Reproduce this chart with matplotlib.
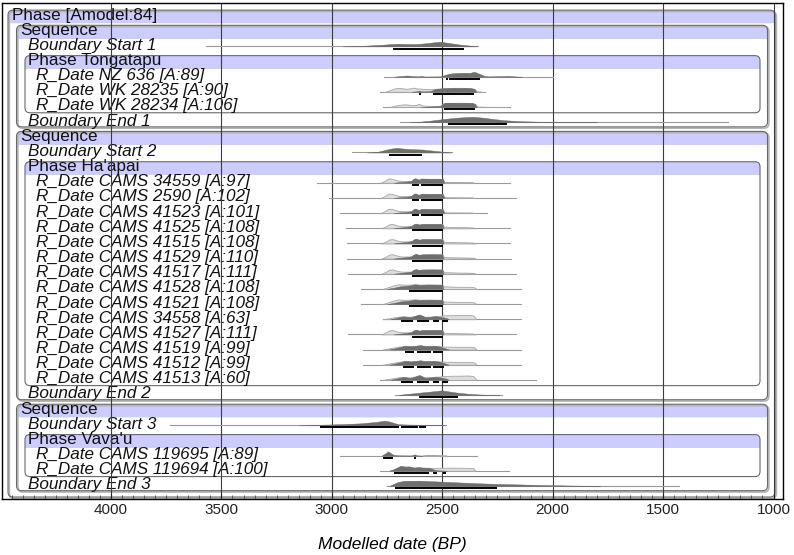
import numpy as np
import matplotlib.pyplot as plt
from matplotlib.patches import FancyBboxPatch, Rectangle
from matplotlib.ticker import MultipleLocator

plt.rcParams['font.family'] = ['Liberation Sans', 'DejaVu Sans']

# rows of the OxCal model, top to bottom
labels = ["Phase [Amodel:84]", "Sequence", "Boundary Start 1", "Phase Tongatapu",
          "R_Date NZ 636 [A:89]", "R_Date WK 28235 [A:90]", "R_Date WK 28234 [A:106]",
          "Boundary End 1", "Sequence", "Boundary Start 2", "Phase Ha'apai",
          "R_Date CAMS 34559 [A:97]", "R_Date CAMS 2590 [A:102]", "R_Date CAMS 41523 [A:101]",
          "R_Date CAMS 41525 [A:108]", "R_Date CAMS 41515 [A:108]", "R_Date CAMS 41529 [A:110]",
          "R_Date CAMS 41517 [A:111]", "R_Date CAMS 41528 [A:108]", "R_Date CAMS 41521 [A:108]",
          "R_Date CAMS 34558 [A:63]", "R_Date CAMS 41527 [A:111]", "R_Date CAMS 41519 [A:99]",
          "R_Date CAMS 41512 [A:99]", "R_Date CAMS 41513 [A:60]", "Boundary End 2",
          "Sequence", "Boundary Start 3", "Phase Vava'u",
          "R_Date CAMS 119695 [A:89]", "R_Date CAMS 119694 [A:100]", "Boundary End 3"]
depth = [0, 1, 2, 2, 3, 3, 3, 2, 1, 2, 2] + [3] * 14 + [2, 1, 2, 2, 3, 3, 2]
# (header row, last row, nesting depth)
groups = [(0, 31, 0), (1, 7, 1), (3, 6, 2), (8, 25, 1), (10, 24, 2), (26, 31, 1), (28, 30, 2)]

major_ticks = [4000, 3500, 3000, 2500, 2000, 1500, 1000]

# thin range line of each distribution (BP)
spans = {
    "Boundary Start 1": (3570, 2340),
    "R_Date NZ 636 [A:89]": (2765, 2000),
    "R_Date WK 28235 [A:90]": (2780, 2307),
    "R_Date WK 28234 [A:106]": (2767, 2193),
    "Boundary End 1": (2690, 1205),
    "Boundary Start 2": (2910, 2457),
    "R_Date CAMS 34559 [A:97]": (3069, 2193),
    "R_Date CAMS 2590 [A:102]": (3011, 2166),
    "R_Date CAMS 41523 [A:101]": (2963, 2299),
    "R_Date CAMS 41525 [A:108]": (2936, 2193),
    "R_Date CAMS 41515 [A:108]": (2933, 2193),
    "R_Date CAMS 41529 [A:110]": (2933, 2190),
    "R_Date CAMS 41517 [A:111]": (2926, 2166),
    "R_Date CAMS 41528 [A:108]": (2869, 2143),
    "R_Date CAMS 41521 [A:108]": (2869, 2143),
    "R_Date CAMS 34558 [A:63]": (2767, 2142),
    "R_Date CAMS 41527 [A:111]": (2925, 2168),
    "R_Date CAMS 41519 [A:99]": (2857, 2143),
    "R_Date CAMS 41512 [A:99]": (2857, 2143),
    "R_Date CAMS 41513 [A:60]": (2782, 2075),
    "Boundary End 2": (2714, 2231),
    "Boundary Start 3": (3733, 2483),
    "R_Date CAMS 119695 [A:89]": (2963, 2344),
    "R_Date CAMS 119694 [A:100]": (2782, 2196),
    "Boundary End 3": (2752, 1426),
}

# 95.4% ranges (BP)
hpd = {
    "Boundary Start 1": [(2725, 2401)],
    "R_Date NZ 636 [A:89]": [(2484, 2476), (2468, 2330)],
    "R_Date WK 28235 [A:90]": [(2604, 2596), (2540, 2356)],
    "R_Date WK 28234 [A:106]": [(2492, 2352)],
    "Boundary End 1": [(2475, 2208)],
    "Boundary Start 2": [(2740, 2593)],
    "R_Date CAMS 34559 [A:97]": [(2638, 2605), (2598, 2495)],
    "R_Date CAMS 2590 [A:102]": [(2638, 2605), (2598, 2495)],
    "R_Date CAMS 41523 [A:101]": [(2638, 2605), (2598, 2495)],
    "R_Date CAMS 41525 [A:108]": [(2638, 2495)],
    "R_Date CAMS 41515 [A:108]": [(2638, 2495)],
    "R_Date CAMS 41529 [A:110]": [(2638, 2495)],
    "R_Date CAMS 41517 [A:111]": [(2638, 2495)],
    "R_Date CAMS 41528 [A:108]": [(2649, 2495)],
    "R_Date CAMS 41521 [A:108]": [(2649, 2495)],
    "R_Date CAMS 34558 [A:63]": [(2686, 2631), (2616, 2560), (2540, 2515), (2503, 2472)],
    "R_Date CAMS 41527 [A:111]": [(2638, 2495)],
    "R_Date CAMS 41519 [A:99]": [(2668, 2628), (2616, 2551), (2543, 2495)],
    "R_Date CAMS 41512 [A:99]": [(2680, 2628), (2616, 2551), (2543, 2492)],
    "R_Date CAMS 41513 [A:60]": [(2686, 2631), (2616, 2560), (2540, 2515), (2503, 2472)],
    "Boundary End 2": [(2605, 2430)],
    "Boundary Start 3": [(3053, 2695), (2687, 2612), (2604, 2574)],
    "R_Date CAMS 119695 [A:89]": [(2770, 2724), (2626, 2618)],
    "R_Date CAMS 119694 [A:100]": [(2718, 2558), (2540, 2522), (2495, 2483)],
    "Boundary End 3": [(2713, 2253)],
}

# Ha'apai dates come in a few near identical shapes: (BP, relative density)
like_a = [(2780, 0), (2760, 2.0), (2745, 4.3), (2730, 4.2), (2700, 2.3), (2680, 1.8), (2640, 2.0),
          (2630, 3.8), (2622, 4.5), (2606, 3.0), (2594, 4.2), (2560, 4.0), (2510, 4.0), (2497, 3.8),
          (2490, 0.8), (2420, 0.7), (2365, 0.6), (2355, 0)]
post_a = [(2720, 0), (2700, 0.6), (2660, 1.2), (2640, 1.8), (2632, 3.6), (2622, 4.5), (2606, 3.0),
          (2594, 4.2), (2560, 4.0), (2510, 4.0), (2497, 3.8), (2492, 0)]
like_b = [(2775, 0), (2755, 2.0), (2740, 4.0), (2725, 4.3), (2700, 2.6), (2680, 2.0), (2640, 2.2),
          (2630, 3.8), (2620, 4.6), (2605, 3.7), (2590, 4.2), (2540, 4.3), (2500, 4.2), (2492, 1.6),
          (2450, 1.3), (2380, 1.0), (2360, 0.8), (2350, 0)]
post_b = [(2720, 0), (2690, 0.8), (2660, 1.5), (2640, 2.2), (2630, 3.8), (2620, 4.6), (2605, 3.7),
          (2590, 4.2), (2540, 4.3), (2500, 4.2), (2494, 0)]
like_c = [(2770, 0), (2745, 1.8), (2720, 3.5), (2700, 4.6), (2670, 4.2), (2640, 4.4), (2620, 4.8),
          (2600, 4.3), (2560, 4.5), (2500, 4.3), (2494, 2.5), (2440, 2.2), (2370, 2.0), (2355, 1.6),
          (2345, 0)]
post_c = [(2750, 0), (2720, 1.2), (2690, 2.6), (2660, 3.2), (2645, 3.6), (2625, 4.5), (2605, 4.0),
          (2570, 4.3), (2500, 4.2), (2494, 0)]
like_d = [(2770, 0), (2740, 1.0), (2700, 2.5), (2676, 3.0), (2650, 2.4), (2620, 3.5), (2604, 4.7),
          (2580, 2.4), (2555, 2.6), (2533, 3.2), (2510, 3.3), (2495, 3.9), (2450, 4.1), (2380, 4.3),
          (2360, 3.8), (2345, 0)]
post_d = [(2735, 0), (2710, 1.2), (2690, 2.2), (2676, 2.8), (2655, 2.2), (2640, 2.0), (2620, 3.6),
          (2604, 4.7), (2590, 3.4), (2578, 2.2), (2555, 2.4), (2533, 3.0), (2515, 2.6), (2500, 2.2),
          (2480, 1.2), (2470, 0)]
like_e = [(2770, 0), (2740, 1.2), (2700, 2.8), (2670, 3.7), (2640, 3.3), (2620, 3.8), (2600, 4.3),
          (2575, 3.5), (2540, 3.7), (2510, 3.3), (2495, 3.0), (2440, 2.8), (2370, 2.7), (2355, 2.2),
          (2345, 0)]
post_e = [(2740, 0), (2710, 1.4), (2685, 2.8), (2668, 3.7), (2640, 3.2), (2620, 3.7), (2600, 4.3),
          (2575, 3.4), (2540, 3.7), (2510, 3.0), (2490, 1.5), (2470, 0)]

likelihood = {
    "R_Date WK 28235 [A:90]": [(2760, 0), (2740, 1.5), (2720, 3.2), (2700, 4.0), (2680, 3.6), (2665, 3.0),
                               (2645, 3.6), (2630, 4.2), (2615, 3.4), (2580, 3.0), (2545, 2.8), (2500, 3.3),
                               (2450, 4.0), (2400, 4.0), (2370, 3.6), (2355, 3.0), (2345, 0.8), (2320, 0)],
    "R_Date WK 28234 [A:106]": [(2740, 0), (2710, 1.5), (2680, 2.6), (2660, 2.6), (2640, 1.8), (2620, 2.0),
                                (2605, 3.3), (2590, 1.6), (2560, 1.0), (2520, 1.0), (2505, 1.5), (2495, 3.8),
                                (2470, 4.2), (2400, 4.2), (2365, 4.0), (2350, 3.0), (2340, 0.5), (2300, 0.2),
                                (2200, 0)],
    "R_Date CAMS 34559 [A:97]": like_a, "R_Date CAMS 2590 [A:102]": like_a,
    "R_Date CAMS 41523 [A:101]": like_a, "R_Date CAMS 41525 [A:108]": like_b,
    "R_Date CAMS 41515 [A:108]": like_b, "R_Date CAMS 41529 [A:110]": like_b,
    "R_Date CAMS 41517 [A:111]": like_b, "R_Date CAMS 41528 [A:108]": like_c,
    "R_Date CAMS 41521 [A:108]": like_c, "R_Date CAMS 34558 [A:63]": like_d,
    "R_Date CAMS 41527 [A:111]": like_b, "R_Date CAMS 41519 [A:99]": like_e,
    "R_Date CAMS 41512 [A:99]": like_e, "R_Date CAMS 41513 [A:60]": like_d,
    "R_Date CAMS 119695 [A:89]": [(2590, 0), (2570, 0.6), (2540, 0.5), (2500, 0.2), (2480, 0)],
    "R_Date CAMS 119694 [A:100]": [(2740, 0), (2720, 1.5), (2700, 3.6), (2690, 4.7), (2665, 4.2),
                                   (2650, 4.3), (2630, 3.2), (2605, 3.6), (2590, 3.2), (2560, 3.0),
                                   (2520, 3.0), (2470, 3.2), (2400, 3.0), (2360, 2.8), (2350, 0)],
}

posterior = {
    "Boundary Start 1": [(2950, 0), (2850, 0.7), (2760, 1.8), (2730, 2.3), (2700, 2.7), (2660, 2.4),
                         (2620, 2.3), (2580, 3.0), (2540, 4.0), (2510, 4.7), (2470, 3.4), (2420, 1.8),
                         (2340, 0)],
    "R_Date NZ 636 [A:89]": [(2720, 0), (2690, 0.6), (2660, 1.2), (2630, 0.6), (2610, 0.3), (2595, 0.8),
                             (2580, 0.2), (2510, 0.3), (2490, 1.5), (2470, 3.0), (2440, 3.7), (2400, 4.0),
                             (2375, 3.8), (2355, 5.0), (2335, 3.2), (2310, 0.8), (2290, 0.3), (2240, 0.6),
                             (2200, 0.8), (2170, 0.3), (2140, 0)],
    "R_Date WK 28235 [A:90]": [(2640, 0), (2620, 0.5), (2605, 1.2), (2590, 0.5), (2560, 0.6), (2545, 1.5),
                               (2530, 3.0), (2500, 3.6), (2450, 4.0), (2400, 4.0), (2370, 3.6), (2355, 3.0),
                               (2345, 0)],
    "R_Date WK 28234 [A:106]": [(2600, 0), (2550, 0.5), (2510, 1.0), (2500, 2.5), (2490, 4.0), (2470, 4.3),
                                (2400, 4.3), (2365, 4.1), (2352, 3.0), (2345, 0)],
    "Boundary End 1": [(2650, 0), (2600, 0.5), (2550, 1.6), (2500, 3.0), (2450, 4.2), (2400, 5.0),
                       (2360, 5.4), (2320, 4.6), (2270, 3.2), (2220, 2.0), (2150, 1.0), (2050, 0.4),
                       (1950, 0.15), (1800, 0)],
    "Boundary Start 2": [(2840, 0), (2790, 0.8), (2760, 2.5), (2730, 4.0), (2705, 4.7), (2680, 4.0),
                         (2640, 3.3), (2590, 3.0), (2540, 1.8), (2500, 0.8), (2460, 0)],
    "R_Date CAMS 34559 [A:97]": post_a, "R_Date CAMS 2590 [A:102]": post_a,
    "R_Date CAMS 41523 [A:101]": post_a, "R_Date CAMS 41525 [A:108]": post_b,
    "R_Date CAMS 41515 [A:108]": post_b, "R_Date CAMS 41529 [A:110]": post_b,
    "R_Date CAMS 41517 [A:111]": post_b, "R_Date CAMS 41528 [A:108]": post_c,
    "R_Date CAMS 41521 [A:108]": post_c, "R_Date CAMS 34558 [A:63]": post_d,
    "R_Date CAMS 41527 [A:111]": post_b, "R_Date CAMS 41519 [A:99]": post_e,
    "R_Date CAMS 41512 [A:99]": post_e, "R_Date CAMS 41513 [A:60]": post_d,
    "Boundary End 2": [(2700, 0), (2680, 0.6), (2640, 1.5), (2600, 2.4), (2560, 3.3), (2520, 4.2),
                       (2502, 4.7), (2470, 3.6), (2430, 2.3), (2380, 1.2), (2330, 0.5), (2270, 0.1),
                       (2240, 0)],
    "Boundary Start 3": [(3150, 0), (3053, 0.6), (2950, 1.2), (2870, 2.0), (2800, 3.4), (2760, 4.7),
                         (2740, 3.8), (2700, 1.2), (2660, 0.8), (2600, 0.6), (2560, 0.4), (2520, 0.15),
                         (2490, 0)],
    "R_Date CAMS 119695 [A:89]": [(2775, 0), (2760, 2.0), (2745, 4.3), (2730, 2.0), (2720, 0.8),
                                  (2700, 0.3), (2640, 0.2), (2625, 1.3), (2615, 0.3), (2590, 0)],
    "R_Date CAMS 119694 [A:100]": [(2740, 0), (2720, 1.5), (2700, 3.6), (2690, 4.7), (2665, 4.2),
                                   (2650, 4.3), (2630, 3.2), (2605, 3.6), (2590, 3.2), (2560, 3.0),
                                   (2545, 2.0), (2530, 0.6), (2500, 0.3), (2480, 0)],
    "Boundary End 3": [(2740, 0), (2720, 2.0), (2700, 4.0), (2670, 5.2), (2600, 5.3), (2500, 4.3),
                       (2400, 3.3), (2300, 2.4), (2200, 1.8), (2050, 1.0), (1900, 0.4), (1785, 0)],
}

px_row = 15.16          # pixels per row
ylim = (31.93, -0.825)
rect = [2 / 794, 56 / 555, 781 / 794, 496.5 / 555]

fig = plt.figure(figsize=(7.94, 5.55), dpi=100)

# background layer: group boxes, header bands, labels (x in pixels)
bg = fig.add_axes(rect, label='bg')
bg.set_xlim(2, 783)
bg.set_ylim(*ylim)
bg.axis('off')

bottom_pad = {0: 0.8, 1: 0.38, 2: 0.45}
for head, last, d in groups:
    x0 = 8 + 8.5 * d
    x1 = 775 - 7.5 * d
    top = head - 0.32
    bot = last + bottom_pad[d]
    band_bot = head + 0.55
    style = 'round,pad=0,rounding_size=5'
    bg.add_patch(FancyBboxPatch((x0, top), x1 - x0, band_bot - top, boxstyle=style,
                                mutation_aspect=1 / px_row, fc='#ccccff', ec='none', zorder=1))
    bg.add_patch(Rectangle((x0, head), x1 - x0, band_bot - head, fc='#ccccff', ec='none', zorder=1))
    if d < 2:
        bg.add_patch(FancyBboxPatch((x0 + 1.3, top + 1.3 / px_row), x1 - x0, bot - top, boxstyle=style,
                                    mutation_aspect=1 / px_row, fc='none', ec='#b4b4b4', lw=1.3, zorder=2))
    bg.add_patch(FancyBboxPatch((x0, top), x1 - x0, bot - top, boxstyle=style,
                                mutation_aspect=1 / px_row, fc='none', ec='#6a6a6a', lw=0.8, zorder=3))

for r, (lab, d) in enumerate(zip(labels, depth)):
    italic = lab.startswith('R_Date') or lab.startswith('Boundary')
    bg.text(12 + 8 * d, r, lab, ha='left', va='center', fontsize=12.3,
            style='italic' if italic else 'normal', color='#111111', zorder=4)

# data layer
ax = fig.add_axes(rect, label='main', facecolor='none')
ax.set_xlim(4493.6, 957)
ax.set_ylim(*ylim)

for r, lab in enumerate(labels):
    if lab not in spans:
        continue
    base = r + 0.07
    a, b = spans[lab]
    ax.plot([a, b], [base, base], color='#9a9a9a', lw=0.8, zorder=3)
    if lab in likelihood:
        pts = np.array(likelihood[lab], dtype=float)
        ax.fill_between(pts[:, 0], base, base - pts[:, 1] / px_row, fc='#dedede', ec='#a6a6a6',
                        lw=0.6, zorder=4)
    pts = np.array(posterior[lab], dtype=float)
    ax.fill_between(pts[:, 0], base, base - pts[:, 1] / px_row, fc='#6e6e6e', ec='#666666',
                    lw=0.3, zorder=5)
    for a, b in hpd[lab]:
        ax.plot([a, b], [base + 0.14, base + 0.14], color='black', lw=1.4,
                solid_capstyle='butt', zorder=6)

ax.set_xticks(major_ticks)
ax.set_xticklabels([str(t) for t in major_ticks])
ax.xaxis.set_minor_locator(MultipleLocator(50))
ax.set_yticks([])
ax.tick_params(axis='x', which='major', direction='in', length=4.5, width=0.8,
               labelsize=11, pad=3, colors='#222222')
ax.tick_params(axis='x', which='minor', direction='in', length=2.6, width=0.6, colors='#444444')
ax.grid(axis='x', which='major', color='#3c3c3c', lw=0.8, zorder=2)
for s in ax.spines.values():
    s.set_color('black')
    s.set_linewidth(1.0)

ax.set_xlabel('Modelled date (BP)', fontsize=12.5, style='italic')
ax.xaxis.set_label_coords(0.5, -0.0926)
ax.xaxis.label.set_va('center')

fig.savefig('out.png', dpi=100)
